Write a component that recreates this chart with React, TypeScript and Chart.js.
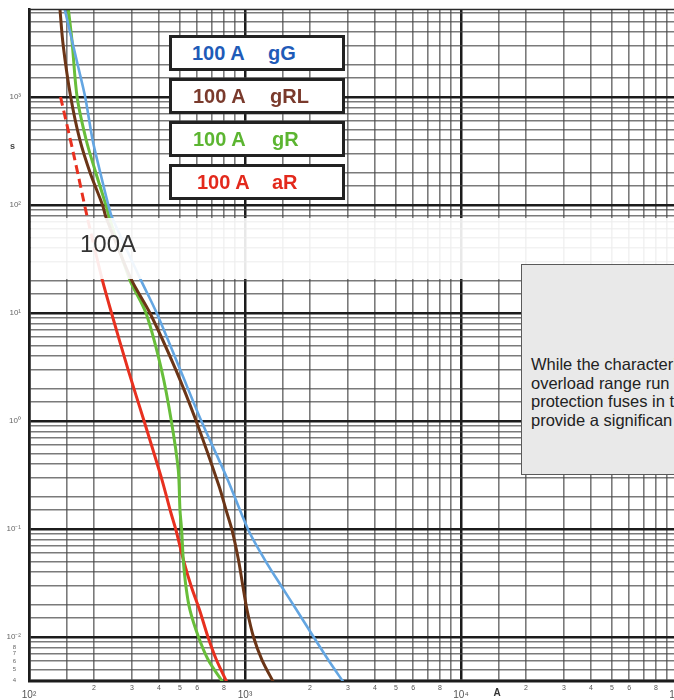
import React, { useEffect, useRef } from "react";
import { Chart, registerables } from "chart.js";
Chart.register(...registerables);

// Axis ranges (current in A, time in s)
const X_MIN = 100;
const X_MAX = 96850;
const Y_MIN = 0.003914;
const Y_MAX = 6530;

const GRID_SIGNIFICANDS = [1, 1.5, 2, 3, 4, 5, 6, 7, 8, 9];
const X_DECADES = [100, 1000, 10000];
const Y_DECADES = [0.001, 0.01, 0.1, 1, 10, 100, 1000];

const X_LABEL_DECADES = [100, 1000, 10000, 100000];
const X_LABEL_EXPONENTS = ["²", "³", "⁴", "⁵"];
const X_MINOR_LABELS = [2, 3, 4, 5, 6, 8];

const Y_LABEL_DECADES = [0.01, 0.1, 1, 10, 100, 1000];
const Y_LABEL_EXPONENTS = ["⁻²", "⁻¹", "⁰", "¹", "²", "³"];
const Y_MINOR_LABEL_VALUES = [0.008, 0.007, 0.006, 0.005, 0.004];
const Y_MINOR_LABELS = ["8", "7", "6", "5", "4"];

// 100 A gG
const GG_I = [146, 158, 169, 182, 197, 214, 233, 242, 328, 390, 502, 628, 825, 1036, 1237, 1479, 1734, 2071, 2431, 2860];
const GG_T = [6600, 3373, 1896, 1000, 400, 198, 100, 77.4, 20.6, 10, 2.96, 1.0, 0.297, 0.098, 0.0516, 0.0292, 0.0178, 0.0101, 0.00612, 0.0038];
// 100 A gRL
const GRL_I = [139, 144, 156, 172, 192, 219, 227, 297, 363, 479, 594, 758, 817, 871, 933, 979, 1022, 1095, 1199, 1355];
const GRL_T = [6600, 3000, 1000, 400, 198, 100, 77.4, 20.6, 10, 2.96, 1.0, 0.25, 0.15, 0.0977, 0.0516, 0.029, 0.0178, 0.01, 0.00612, 0.0038];
// 100 A gR
const GR_I = [152, 158, 167, 184, 204, 227, 235, 292, 348, 411, 456, 491, 500, 509, 518, 533, 556, 608, 676, 790];
const GR_T = [6600, 3373, 1000, 400, 198, 100, 77.4, 20.6, 10, 2.96, 1.0, 0.352, 0.15, 0.098, 0.0516, 0.0292, 0.0178, 0.0101, 0.00612, 0.0038];
// 100 A aR (dashed part, then solid part)
const AR_DASH_I = [140, 162, 186, 201];
const AR_DASH_T = [1000, 278, 77.4, 40];
const AR_I = [201, 218, 241, 288, 341, 413, 450, 479, 519, 565, 616, 674, 738, 825];
const AR_T = [40, 20.6, 10, 2.96, 1.0, 0.284, 0.15, 0.0977, 0.0516, 0.029, 0.0178, 0.01, 0.00612, 0.0038];

const LEGEND = [
  { amp: "100 A", type: "gG", color: "#1f5bb8", ampX: 192, typeX: 268 },
  { amp: "100 A", type: "gRL", color: "#7a3a2c", ampX: 193, typeX: 270 },
  { amp: "100 A", type: "gR", color: "#5cb531", ampX: 193, typeX: 272 },
  { amp: "100 A", type: "aR", color: "#e3291c", ampX: 197, typeX: 272 },
];

const NOTE_LINES = [
  "While the characteristics of gG and gRL fuses in the",
  "overload range run close together, semiconductor",
  "protection fuses in the short-circuit range",
  "provide a significan tly lower let-through energy.",
];

const BLUE = "#64a6e2";
const BROWN = "#6b3517";
const GREEN = "#68be3a";
const RED = "#e8301f";

function pts(xs: number[], ys: number[]) {
  return xs.map((x, i) => ({ x, y: ys[i] }));
}

function gridValues(decades: number[], min: number, max: number) {
  const out: number[] = [];
  decades.forEach((d) =>
    GRID_SIGNIFICANDS.forEach((s) => {
      const v = d * s;
      if (v >= min * 0.999 && v <= max) out.push(v);
    })
  );
  return out;
}

function isMajor(v: number) {
  const l = Math.log10(v);
  return Math.abs(l - Math.round(l)) < 1e-6;
}

const gridStyle = {
  drawTicks: false,
  color: (ctx: any) => (ctx.tick && isMajor(ctx.tick.value) ? "#1c1c1c" : "rgba(70,70,70,0.72)"),
  lineWidth: (ctx: any) => (ctx.tick && isMajor(ctx.tick.value) ? 2.5 : 1.6),
};

const labelPlugin = {
  id: "fuseLabels",
  afterDraw(chart: any) {
    const ctx = chart.ctx as CanvasRenderingContext2D;
    const xs = chart.scales.x;
    const ys = chart.scales.y;
    const a = chart.chartArea;
    ctx.save();
    // top border
    ctx.strokeStyle = "#2a2a2a";
    ctx.lineWidth = 1.6;
    ctx.beginPath();
    ctx.moveTo(a.left, a.top + 0.5);
    ctx.lineTo(a.right, a.top + 0.5);
    ctx.stroke();

    ctx.fillStyle = "#555";
    ctx.textBaseline = "middle";
    // x labels
    ctx.textAlign = "center";
    X_LABEL_DECADES.forEach((d, i) => {
      const px = xs.getPixelForValue(d);
      ctx.font = '10px "Liberation Sans", Arial, sans-serif';
      ctx.fillText("10" + X_LABEL_EXPONENTS[i], px, 695);
      if (i < X_LABEL_DECADES.length - 1) {
        ctx.font = '7px "Liberation Sans", Arial, sans-serif';
        X_MINOR_LABELS.forEach((s) => {
          ctx.fillText(String(s), xs.getPixelForValue(d * s), 688);
        });
      }
    });
    ctx.fillStyle = "#333";
    ctx.font = 'bold 10px "Liberation Sans", Arial, sans-serif';
    ctx.fillText("A", 497, 693);

    // y labels
    ctx.fillStyle = "#666";
    ctx.textAlign = "right";
    ctx.font = '8px "Liberation Sans", Arial, sans-serif';
    Y_LABEL_DECADES.forEach((d, i) => {
      ctx.fillText("10" + Y_LABEL_EXPONENTS[i], 21, ys.getPixelForValue(d));
    });
    ctx.font = '6px "Liberation Sans", Arial, sans-serif';
    Y_MINOR_LABEL_VALUES.forEach((v, i) => {
      ctx.fillText(Y_MINOR_LABELS[i], 16, ys.getPixelForValue(v));
    });
    ctx.fillStyle = "#444";
    ctx.font = 'bold 9px "Liberation Sans", Arial, sans-serif';
    ctx.fillText("s", 15, 147);
    ctx.restore();
  },
};

export default function App() {
  const ref = useRef<HTMLCanvasElement>(null);
  useEffect(() => {
    document.body.style.margin = "0";
    const lineBase = { pointRadius: 0, fill: false, tension: 0.3, clip: 0 };
    const chart = new Chart(ref.current!, {
      type: "line",
      data: {
        datasets: [
          { ...lineBase, label: "100 A gG", data: pts(GG_I, GG_T), borderColor: BLUE, borderWidth: 2.6 },
          { ...lineBase, label: "100 A gRL", data: pts(GRL_I, GRL_T), borderColor: BROWN, borderWidth: 3 },
          { ...lineBase, label: "100 A gR", data: pts(GR_I, GR_T), borderColor: GREEN, borderWidth: 3 },
          { ...lineBase, label: "100 A aR (overload)", data: pts(AR_DASH_I, AR_DASH_T), borderColor: RED, borderWidth: 3, borderDash: [9, 5] },
          { ...lineBase, label: "100 A aR", data: pts(AR_I, AR_T), borderColor: RED, borderWidth: 3 },
        ],
      },
      options: {
        animation: false,
        responsive: false,
        devicePixelRatio: 1,
        layout: { padding: { top: 9, right: 0, left: 0, bottom: 0 } },
        plugins: { legend: { display: false }, tooltip: { enabled: false } },
        scales: {
          x: {
            type: "logarithmic",
            min: X_MIN,
            max: X_MAX,
            afterBuildTicks: (s: any) => {
              s.ticks = gridValues(X_DECADES, X_MIN, X_MAX).map((v) => ({ value: v }));
            },
            afterFit: (s: any) => {
              s.height = 19;
            },
            ticks: { display: false },
            grid: gridStyle as any,
            border: { display: true, color: "#1c1c1c", width: 2.5 },
          },
          y: {
            type: "logarithmic",
            min: Y_MIN,
            max: Y_MAX,
            afterBuildTicks: (s: any) => {
              s.ticks = gridValues(Y_DECADES, Y_MIN, Y_MAX).map((v) => ({ value: v }));
            },
            afterFit: (s: any) => {
              s.width = 29;
            },
            ticks: { display: false },
            grid: gridStyle as any,
            border: { display: true, color: "#1c1c1c", width: 2.5 },
          },
        },
      },
      plugins: [labelPlugin],
    });
    return () => chart.destroy();
  }, []);

  const font = '"Liberation Sans", Arial, Helvetica, sans-serif';
  return (
    <div
      style={{
        position: "absolute",
        left: 0,
        top: 0,
        width: 674,
        height: 700,
        overflow: "hidden",
        background: "#fff",
        fontFamily: font,
      }}
    >
      <canvas ref={ref} width={674} height={700} style={{ position: "absolute", left: 0, top: 0, width: 674, height: 700 }} />
      {LEGEND.map((l, i) => (
        <div
          key={l.type}
          style={{
            position: "absolute",
            left: 169,
            top: 35 + i * 43,
            width: 176,
            height: 36,
            boxSizing: "border-box",
            border: "3px solid #222",
            background: "#fff",
            color: l.color,
            fontWeight: "bold",
            fontSize: 20,
          }}
        >
          <span style={{ position: "absolute", left: l.ampX - 172, top: 0, lineHeight: "30px", whiteSpace: "nowrap" }}>{l.amp}</span>
          <span style={{ position: "absolute", left: l.typeX - 172, top: 0, lineHeight: "30px", whiteSpace: "nowrap" }}>{l.type}</span>
        </div>
      ))}
      <div
        style={{
          position: "absolute",
          left: 31,
          top: 218,
          width: 643,
          height: 61,
          background: "rgba(255,255,255,0.9)",
        }}
      >
        <span style={{ position: "absolute", left: 49, top: 12, fontSize: 24, lineHeight: "28px", color: "#333", whiteSpace: "nowrap" }}>100A</span>
      </div>
      <div
        style={{
          position: "absolute",
          left: 521,
          top: 264,
          width: 260,
          height: 211,
          boxSizing: "border-box",
          border: "1px solid #5a5a5a",
          background: "#e9e9e9",
        }}
      >
        {NOTE_LINES.map((t, i) => (
          <div
            key={i}
            style={{
              position: "absolute",
              left: 9,
              top: 90 + i * 18.7,
              fontSize: 16.5,
              lineHeight: "18.7px",
              color: "#222",
              whiteSpace: "nowrap",
            }}
          >
            {t}
          </div>
        ))}
      </div>
    </div>
  );
}
